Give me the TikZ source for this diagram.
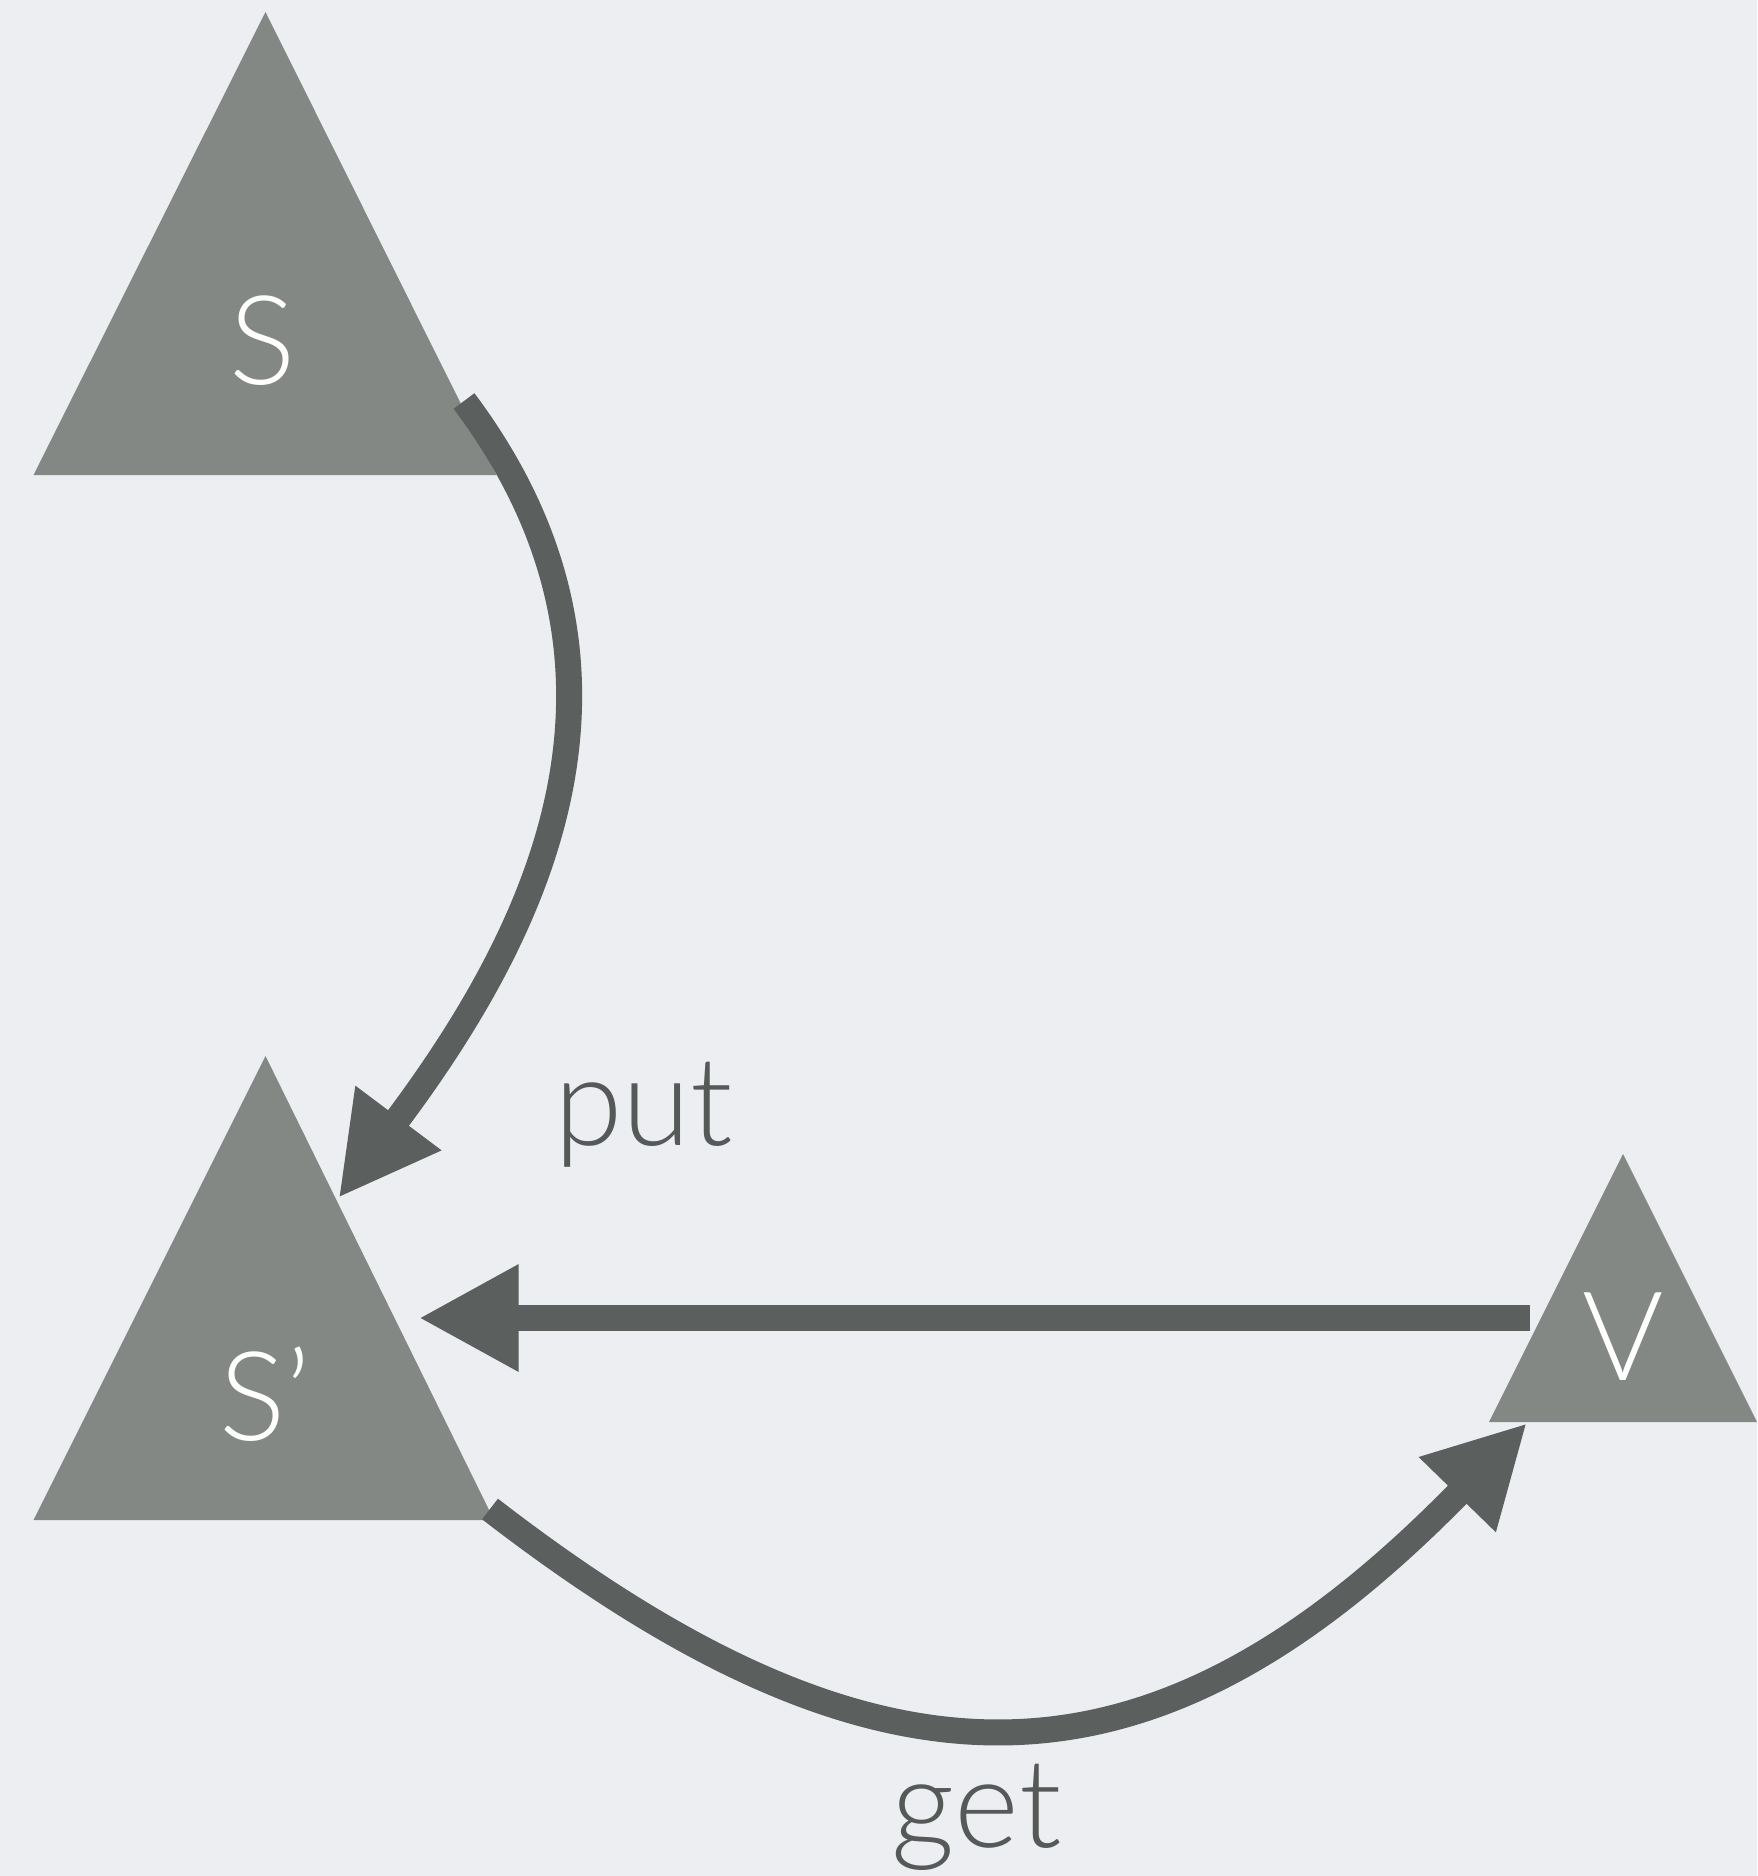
\documentclass[tikz,border=0pt]{standalone}
\usepackage{fontspec}
\setmainfont{Lato}[UprightFont={* Light}]
\usetikzlibrary{arrows.meta}
\definecolor{bgc}{HTML}{ECEEF1}
\definecolor{tric}{HTML}{838885}
\definecolor{arrc}{HTML}{5B5F5D}
\definecolor{lblc}{HTML}{555957}
\begin{document}
\begin{tikzpicture}[x=1pt,y=-1pt,
  trishape/.style={fill=tric},
  conn/.style={draw=arrc, line width=26pt, -{Triangle[length=100pt,width=100pt]}},
  inlabel/.style={text=white, font=\fontsize{124}{140}\selectfont, inner sep=0pt},
  edgelabel/.style={text=lblc, font=\fontsize{124}{140}\selectfont, inner sep=0pt, anchor=base}]
\fill[bgc] (0,0) rectangle (1757,1876);
\useasboundingbox (0,0) rectangle (1757,1876);
% triangles
\fill[trishape] (265.5,12) -- (496.4,475) -- (33.5,475) -- cycle;
\fill[trishape] (265.5,1056) -- (494,1520) -- (33.5,1520) -- cycle;
\fill[trishape] (1623,1154) -- (1757,1422) -- (1489,1422) -- cycle;
% labels
\node[inlabel] (S) at (263,341) {S};
\node[inlabel] (Sp) at (265,1394) {S’};
\node[inlabel] (V) at (1623,1337) {V};
% connector ends
\coordinate (putA) at (464,401);
\coordinate (putB) at (338.5,1198);
\coordinate (hA) at (1530,1318);
\coordinate (hB) at (418.6,1318);
\coordinate (getA) at (490,1509);
\coordinate (getB) at (1527,1423);
% connectors
\draw[conn] (putA) .. controls (668,673) and (536.5,934) .. (putB);
\draw[conn] (hA) -- (hB);
\draw[conn] (getA) .. controls (880,1810) and (1150,1810) .. (getB);
% edge labels
\node[edgelabel] (put) at (643.5,1145) {put};
\node[edgelabel] (get) at (976.5,1847) {get};
\end{tikzpicture}
\end{document}
